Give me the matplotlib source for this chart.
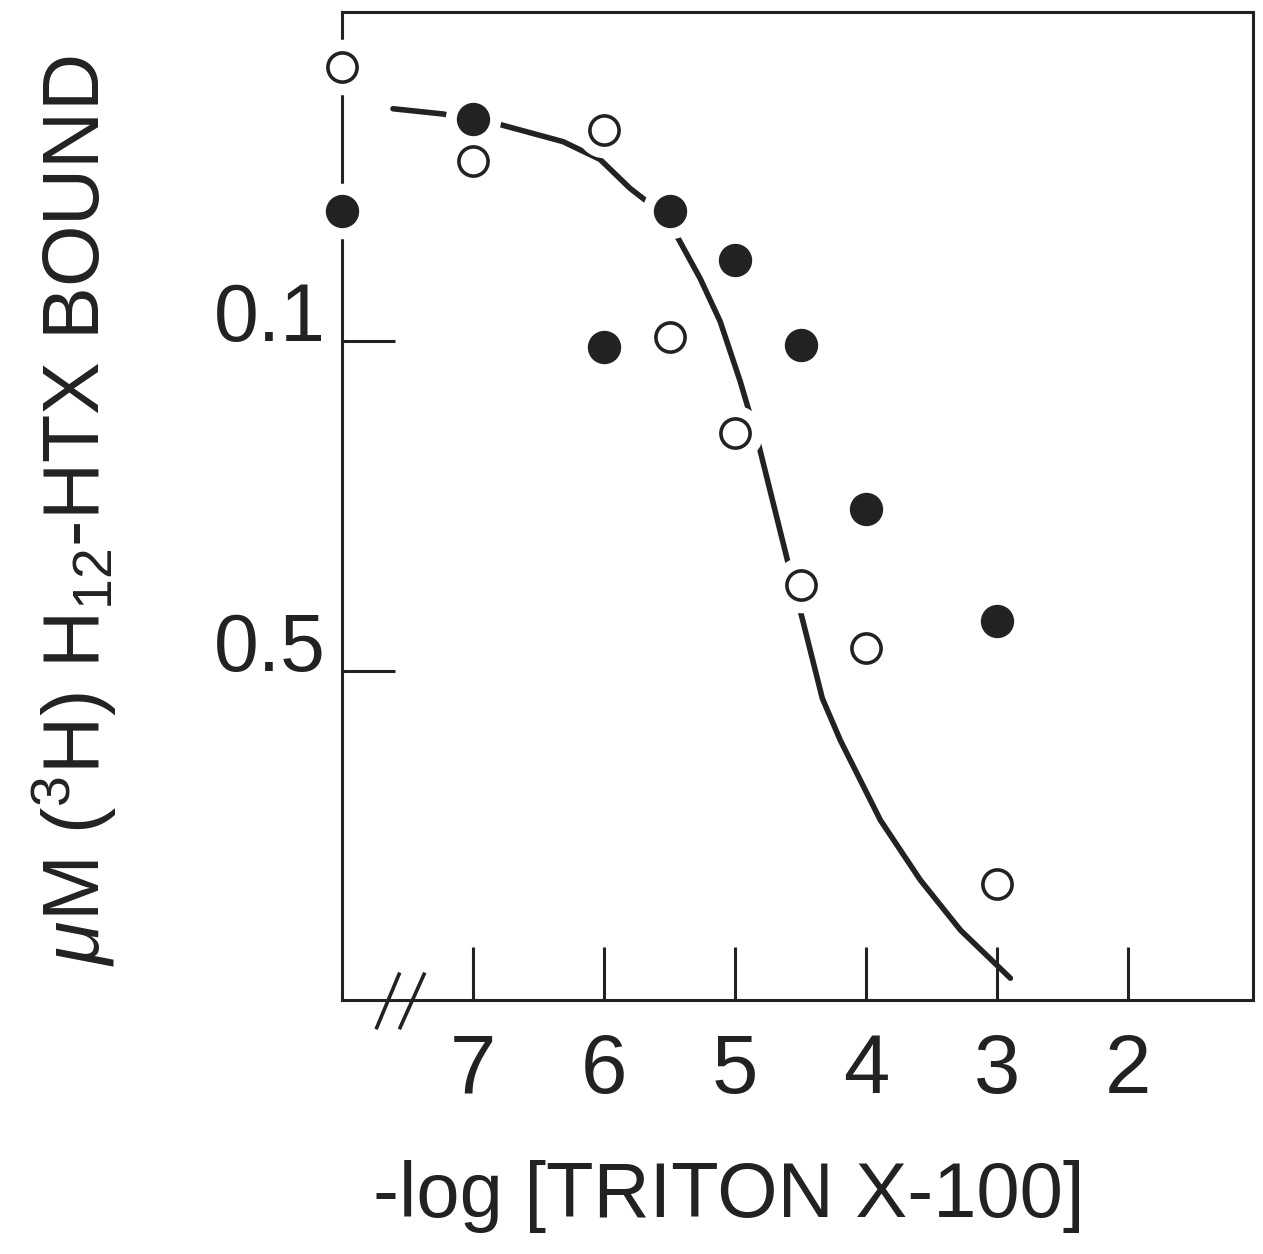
import matplotlib
matplotlib.use('Agg')
import matplotlib.pyplot as plt
import matplotlib.transforms as mtransforms

plt.rcParams['font.family'] = ['Liberation Sans', 'DejaVu Sans']
plt.rcParams['mathtext.fontset'] = 'custom'
plt.rcParams['mathtext.rm'] = 'Liberation Sans'
plt.rcParams['mathtext.it'] = 'Liberation Sans:italic'

# data (x = -log[Triton], y = uM bound)
x_open = [8, 7, 6, 5.5, 5, 4.5, 4, 3]
y_open = [0.1417, 0.1273, 0.1321, 0.1006, 0.0861, 0.0630, 0.0535, 0.0176]
x_filled = [8, 7, 6, 5.5, 5, 4.5, 4, 3]
y_filled = [0.1197, 0.1338, 0.0992, 0.1197, 0.1124, 0.0995, 0.0745, 0.0576]

x_curve = [7.611, 7.229, 6.794, 6.313, 6.031, 5.802, 5.672, 5.435, 5.267, 5.115,
           4.962, 4.901, 4.824, 4.595, 4.504, 4.336, 4.198, 3.893, 3.588, 3.282, 2.901]
y_curve = [0.1353, 0.1345, 0.1329, 0.1303, 0.1276, 0.1232, 0.1212, 0.1156, 0.1095, 0.1030,
           0.0939, 0.0898, 0.0845, 0.0662, 0.0591, 0.0458, 0.0394, 0.0273, 0.0182, 0.0106, 0.0033]

xticks = [7, 6, 5, 4, 3, 2]
yticks = [0.05, 0.1]
ytick_labels = ['0.5', '0.1']

ink = '#222222'

fig = plt.figure(figsize=(12.63, 12.54), dpi=100)
ax = fig.add_axes([0.2708, 0.2026, 0.7213, 0.7879])

ax.plot(x_curve, y_curve, color=ink, lw=4, solid_capstyle='round',
        solid_joinstyle='round', zorder=2)

# white halos make the gaps in the curve around the symbols
allx = x_open + x_filled
ally = y_open + y_filled
ax.plot(allx, ally, 'o', ms=40, mfc='white', mec='none', zorder=3, clip_on=False)

ax.plot(x_open, y_open, 'o', ms=21, mfc='white', mec=ink, mew=2.6, zorder=4, clip_on=False)
ax.plot(x_filled, y_filled, 'o', ms=23, mfc=ink, mec=ink, zorder=4, clip_on=False)

ax.set_xlim(8, 1.05)
ax.set_ylim(0, 0.15)

ax.set_xticks(xticks)
ax.set_xticklabels([str(t) for t in xticks])
ax.set_yticks(yticks)
ax.set_yticklabels(ytick_labels)

ax.tick_params(axis='both', direction='in', length=38, width=2.2, color=ink,
               labelcolor=ink, labelsize=58)
ax.tick_params(axis='x', pad=23, labelsize=60)
ax.tick_params(axis='y', pad=12)
for lbl in ax.get_yticklabels():
    lbl.set_verticalalignment('baseline')

for s in ax.spines.values():
    s.set_linewidth(2.2)
    s.set_color(ink)

# axis break marks
trans = mtransforms.blended_transform_factory(ax.transData, ax.transAxes)
for xa, xb in [(7.735, 7.565), (7.557, 7.374)]:
    ax.plot([xa, xb], [-0.028, 0.026], color=ink, lw=2.6, transform=trans, clip_on=False)

ax.set_xlabel('-log [TRITON X-100]', fontsize=56, color=ink)
ax.xaxis.set_label_coords(0.425, -0.162)
ax.set_ylabel(r'$\mu$M ($^{3}$H) H$_{12}$-HTX BOUND', fontsize=57, color=ink)
ax.yaxis.set_label_coords(-0.245, 0.495)

fig.savefig('out.png', dpi=100, facecolor='white')
